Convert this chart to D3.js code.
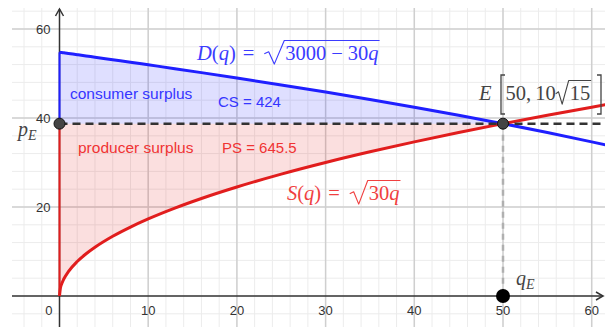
<!DOCTYPE html>
<html>
<head>
<meta charset="utf-8">
<script src="https://cdn.jsdelivr.net/npm/d3@7"></script>
<style>
  html, body { margin: 0; padding: 0; background: #fff; }
  svg { display: block; }
</style>
</head>
<body>
<div id="chart"></div>
<script>
// values
const xTicks = [10, 20, 30, 40, 50, 60];
const yTicks = [20, 40, 60];
const qSamples = [0, 0.1, 0.25, 0.5, 1, 2, 3, 4, 6, 8, 10, 13, 16, 20, 25, 30, 35, 40, 45, 50, 55, 60, 62];
const demandValues = [54.77, 54.74, 54.70, 54.64, 54.50, 54.22, 53.94, 53.67, 53.10, 52.54, 51.96, 51.09, 50.20,
  48.99, 47.43, 45.83, 44.16, 42.43, 40.62, 38.73, 36.74, 34.64, 33.76];
const supplyValues = [0, 1.73, 2.74, 3.87, 5.48, 7.75, 9.49, 10.95, 13.42, 15.49, 17.32, 19.75, 21.91,
  24.49, 27.39, 30.00, 32.40, 34.64, 36.74, 38.73, 40.62, 42.43, 43.13];
const eqQ = 50;
const eqP = 38.73;
const surplusTexts = ["consumer surplus", "CS = 424", "producer surplus", "PS = 645.5"];

const width = 605, height = 327;
const plot = { left: 12, top: 8, right: 605, bottom: 327 };
const blue = "#1f1fff", red = "#e11d1d";

const x = d3.scaleLinear([0, 60], [59.5, 591.7]);
const y = d3.scaleLinear([0, 60], [296, 29]);

const svg = d3.select("#chart").append("svg")
  .attr("width", width).attr("height", height)
  .style("font-family", "'Liberation Sans', Arial, sans-serif");

svg.append("clipPath").attr("id", "clip").append("rect")
  .attr("x", plot.left).attr("y", plot.top)
  .attr("width", plot.right - plot.left).attr("height", plot.bottom - plot.top);

// grid
const grid = svg.append("g").attr("clip-path", "url(#clip)");
grid.selectAll(".vminor").data(d3.range(-4, 63, 2)).join("line")
  .attr("x1", d => x(d)).attr("x2", d => x(d)).attr("y1", plot.top).attr("y2", plot.bottom)
  .attr("stroke", "#ececec").attr("stroke-width", 1);
grid.selectAll(".hminor").data(d3.range(-4, 66, 4)).join("line")
  .attr("y1", d => y(d)).attr("y2", d => y(d)).attr("x1", plot.left).attr("x2", plot.right)
  .attr("stroke", "#ececec").attr("stroke-width", 1);
grid.selectAll(".vmajor").data(xTicks).join("line")
  .attr("x1", d => x(d)).attr("x2", d => x(d)).attr("y1", plot.top).attr("y2", plot.bottom)
  .attr("stroke", "#cfcfcf").attr("stroke-width", 1.5);
grid.selectAll(".hmajor").data(yTicks).join("line")
  .attr("y1", d => y(d)).attr("y2", d => y(d)).attr("x1", plot.left).attr("x2", plot.right)
  .attr("stroke", "#cfcfcf").attr("stroke-width", 1.5);

// axes
const axisColor = "#333";
svg.append("line").attr("x1", plot.left).attr("x2", 603).attr("y1", y(0)).attr("y2", y(0))
  .attr("stroke", axisColor).attr("stroke-width", 1.5);
svg.append("line").attr("x1", x(0)).attr("x2", x(0)).attr("y1", 9).attr("y2", plot.bottom)
  .attr("stroke", axisColor).attr("stroke-width", 1.5);
svg.append("path").attr("d", `M${x(0) - 4},${16} L${x(0)},${9} L${x(0) + 4},${16}`)
  .attr("fill", "none").attr("stroke", axisColor).attr("stroke-width", 1.5);
svg.append("path").attr("d", `M${596},${y(0) - 4} L${603},${y(0)} L${596},${y(0) + 4}`)
  .attr("fill", "none").attr("stroke", axisColor).attr("stroke-width", 1.5);

svg.append("g").selectAll("text").data(xTicks).join("text")
  .attr("x", d => x(d)).attr("y", y(0) + 19).attr("text-anchor", "middle")
  .attr("font-size", 13).attr("fill", "#333").text(d => d);
svg.append("text").attr("x", x(0) - 7).attr("y", y(0) + 19).attr("text-anchor", "end")
  .attr("font-size", 13).attr("fill", "#333").text(0);
svg.append("g").selectAll("text").data(yTicks).join("text")
  .attr("x", x(0) - 9).attr("y", d => y(d)).attr("dy", "0.35em").attr("text-anchor", "end")
  .attr("font-size", 13).attr("fill", "#333").text(d => d);

// data
const pts = qSamples.map((q, i) => ({ q, d: demandValues[i], s: supplyValues[i] }));
const left = pts.filter(p => p.q <= eqQ);

const plotArea = svg.append("g").attr("clip-path", "url(#clip)");

plotArea.append("path").datum(left)
  .attr("d", d3.area().x(p => x(p.q)).y0(y(eqP)).y1(p => y(p.d)).curve(d3.curveMonotoneX))
  .attr("fill", blue).attr("fill-opacity", 0.14);
plotArea.append("path").datum(left)
  .attr("d", d3.area().x(p => x(p.q)).y0(y(eqP)).y1(p => y(p.s)).curve(d3.curveMonotoneX))
  .attr("fill", red).attr("fill-opacity", 0.14);

// boundary verticals at q = 0
plotArea.append("line").attr("x1", x(0)).attr("x2", x(0)).attr("y1", y(eqP)).attr("y2", y(demandValues[0]))
  .attr("stroke", blue).attr("stroke-width", 2);
plotArea.append("line").attr("x1", x(0)).attr("x2", x(0)).attr("y1", y(0)).attr("y2", y(eqP))
  .attr("stroke", red).attr("stroke-width", 2);

// dashed guides
plotArea.append("line").attr("x1", x(eqQ)).attr("x2", x(eqQ)).attr("y1", y(eqP)).attr("y2", y(0))
  .attr("stroke", "#b0b0b0").attr("stroke-width", 2.5).attr("stroke-dasharray", "6,5");

plotArea.append("path").datum(pts)
  .attr("d", d3.line().x(p => x(p.q)).y(p => y(p.d)).curve(d3.curveMonotoneX))
  .attr("fill", "none").attr("stroke", blue).attr("stroke-width", 3);
plotArea.append("path").datum(pts)
  .attr("d", d3.line().x(p => x(p.q)).y(p => y(p.s)).curve(d3.curveMonotoneX))
  .attr("fill", "none").attr("stroke", red).attr("stroke-width", 3);

plotArea.append("line").attr("x1", x(0)).attr("x2", plot.right).attr("y1", y(eqP)).attr("y2", y(eqP))
  .attr("stroke", "#333").attr("stroke-width", 2.5).attr("stroke-dasharray", "8,5");

// points
[[0, eqP], [eqQ, eqP]].forEach(([q, p]) => {
  svg.append("circle").attr("cx", x(q)).attr("cy", y(p)).attr("r", 5.5)
    .attr("fill", "#444").attr("stroke", "#111").attr("stroke-width", 1);
});
svg.append("circle").attr("cx", x(eqQ)).attr("cy", y(0)).attr("r", 7).attr("fill", "#000");

// surplus texts
svg.append("text").attr("x", 70).attr("y", 99).attr("font-size", 15.5).attr("fill", "#3535ff").text(surplusTexts[0]);
svg.append("text").attr("x", 218).attr("y", 107).attr("font-size", 15).attr("fill", "#3535ff").text(surplusTexts[1]);
svg.append("text").attr("x", 78).attr("y", 153).attr("font-size", 15.5).attr("fill", "#f03333").text(surplusTexts[2]);
svg.append("text").attr("x", 222).attr("y", 153).attr("font-size", 15).attr("fill", "#f03333").text(surplusTexts[3]);

// math labels
function mathLabel(x0, y0, size, color, parts, rw) {
  const g = svg.append("g").attr("fill", color)
    .style("font-family", "'Liberation Serif', 'Times New Roman', serif");
  let cx = x0;
  const put = (t, italic, fs, dy) => {
    const el = g.append("text").attr("x", cx).attr("y", y0 + (dy || 0))
      .attr("font-size", fs).attr("font-style", italic ? "italic" : "normal").text(t);
    cx += el.node().getComputedTextLength();
  };
  parts.forEach(p => {
    if (p.gap) cx += p.gap;
    else if (p.root) {
      const a = cx;
      cx += rw;
      const s = cx;
      cx += 1;
      p.root.forEach(r => r.gap ? (cx += r.gap) : put(r.t, r.i, size));
      const top = y0 - size * 0.95;
      g.append("path")
        .attr("d", `M${a},${y0 - size * 0.3} L${a + rw * 0.22},${y0 - size * 0.4} L${a + rw * 0.5},${y0 + size * 0.2} L${s},${top} L${cx + 1},${top}`)
        .attr("fill", "none").attr("stroke", color).attr("stroke-width", size * 0.055)
        .attr("stroke-linejoin", "round");
      cx += 2;
    } else if (p.sub) put(p.sub, true, size * 0.7, size * 0.22);
    else put(p.t, p.i, size);
  });
  return g;
}

mathLabel(197, 60, 20.5, "#3b3bff", [
  { t: "D", i: true }, { t: "(" }, { t: "q", i: true }, { t: ")" }, { gap: 7 }, { t: "=" }, { gap: 10 },
  { root: [{ t: "3000" }, { gap: 5 }, { t: "−" }, { gap: 5 }, { t: "30" }, { t: "q", i: true }] }
], 20);
mathLabel(287, 200, 20.5, "#f04040", [
  { t: "S", i: true }, { t: "(" }, { t: "q", i: true }, { t: ")" }, { gap: 7 }, { t: "=" }, { gap: 10 },
  { root: [{ t: "30" }, { t: "q", i: true }] }
], 18);
mathLabel(479, 100, 20.5, "#444", [
  { t: "E", i: true }, { gap: 14 }, { t: "50," }, { gap: 4 }, { t: "10" }, { root: [{ t: "15" }] }
], 13);
// brackets around E coordinates
svg.append("path").attr("d", "M505,75 L501,75 L501,114 L505,114").attr("fill", "none").attr("stroke", "#444").attr("stroke-width", 1.3);
svg.append("path").attr("d", "M597,75 L601,75 L601,114 L597,114").attr("fill", "none").attr("stroke", "#444").attr("stroke-width", 1.3);

mathLabel(18, 136, 20, "#444", [{ t: "p", i: true }, { sub: "E" }], 0);
mathLabel(516, 285, 20, "#444", [{ t: "q", i: true }, { sub: "E" }], 0);
</script>
</body>
</html>
